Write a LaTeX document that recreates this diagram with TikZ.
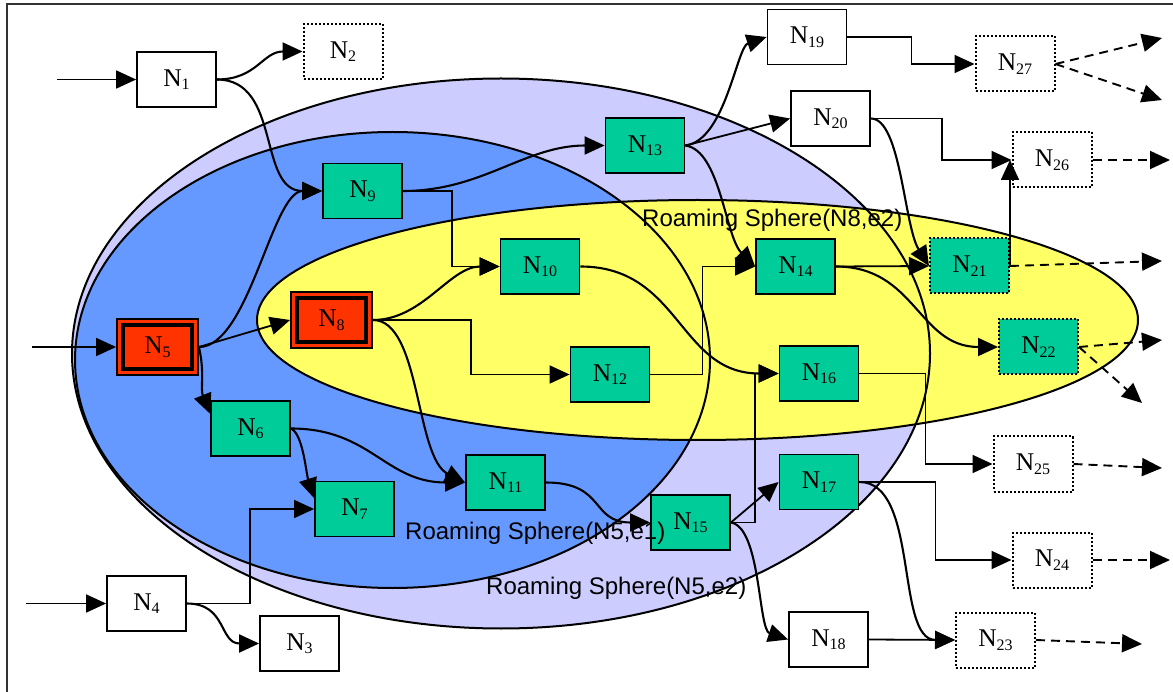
\documentclass[tikz,border=0pt]{standalone}
\usepackage{fontspec}
\setmainfont{Liberation Serif}
\newfontfamily\sphfont{Liberation Sans}
\usetikzlibrary{arrows.meta}
\definecolor{lav}{HTML}{CCCCFF}
\definecolor{sblue}{HTML}{6699FF}
\definecolor{syel}{HTML}{FFFF66}
\definecolor{ngreen}{HTML}{00CC99}
\definecolor{nred}{HTML}{FF3300}
\newcommand{\nlab}[1]{N\raisebox{-3.5pt}{\fontsize{16}{16}\selectfont #1}}
\begin{document}
\begin{tikzpicture}[x=1pt,y=-1pt,
  box/.style={rectangle, draw=black, line width=1.8pt, minimum width=79pt, minimum height=55pt, inner sep=0pt, font=\fontsize{25.5}{25.5}\selectfont, fill=white},
  dotbox/.style={box, line width=2pt, dash pattern=on 2pt off 2pt},
  gbox/.style={box, fill=ngreen},
  gdotbox/.style={dotbox, fill=ngreen},
  rbox/.style={box, fill=nred, minimum width=81pt, minimum height=56pt,
    path picture={\draw[line width=3.2pt] ([shift={(6pt,-6pt)}]path picture bounding box.north west) rectangle ([shift={(-6pt,6pt)}]path picture bounding box.south east);}},
  tip/.style={-{Triangle[length=20pt,width=18pt]}},
  conn/.style={tip, line width=2.1pt},
  elb/.style={tip, line width=1.8pt},
  dsh/.style={tip, line width=1.9pt, dash pattern=on 9pt off 6pt},
  sph/.style={font=\sphfont\fontsize{24}{24}\selectfont, anchor=base west, inner sep=0pt},
  ell/.style={line width=2pt}
]
\useasboundingbox (0,0) rectangle (1173,692);
% frame
\draw[line width=1.8pt, black!80] (1173,4) -- (7,4) -- (7,692);
% spheres
\fill[lav] (501,353.5) ellipse [x radius=429pt, y radius=275pt];
\fill[sblue] (392.5,360) ellipse [x radius=317.5pt, y radius=228pt];
\fill[syel] (697.5,320) ellipse [x radius=440.5pt, y radius=120pt];
\draw[ell] (501,353.5) ellipse [x radius=429pt, y radius=275pt];
\draw[ell] (392.5,360) ellipse [x radius=317.5pt, y radius=228pt];
\draw[ell] (697.5,320) ellipse [x radius=440.5pt, y radius=120pt];

% nodes
\node[box] (N1) at (176.5,79.5) {\nlab{1}};
\node[dotbox] (N2) at (343,51.5) {\nlab{2}};
\node[box] (N3) at (299.5,643.5) {\nlab{3}};
\node[box] (N4) at (146.5,603.5) {\nlab{4}};
\node[rbox] (N5) at (157.5,347) {\nlab{5}};
\node[gbox] (N6) at (250.5,428.5) {\nlab{6}};
\node[gbox] (N7) at (354.5,509) {\nlab{7}};
\node[rbox] (N8) at (331.5,320) {\nlab{8}};
\node[gbox] (N9) at (362.5,191) {\nlab{9}};
\node[gbox] (N10) at (540,266.5) {\nlab{10}};
\node[gbox] (N11) at (505.5,482.5) {\nlab{11}};
\node[gbox] (N12) at (610,374.5) {\nlab{12}};
\node[gbox] (N13) at (645,145.5) {\nlab{13}};
\node[gbox] (N14) at (795.5,266.5) {\nlab{14}};
\node[gbox] (N15) at (690.5,522.5) {\nlab{15}};
\node[gbox] (N16) at (819,373.5) {\nlab{16}};
\node[gbox] (N17) at (819,482) {\nlab{17}};
\node[box] (N18) at (828.5,639.5) {\nlab{18}};
\node[box] (N19) at (807,37) {\nlab{19}};
\node[box] (N20) at (830.5,118.5) {\nlab{20}};
\node[gdotbox] (N21) at (969.5,266) {\nlab{21}};
\node[gdotbox] (N22) at (1038.5,347) {\nlab{22}};
\node[dotbox] (N23) at (995.5,640) {\nlab{23}};
\node[dotbox] (N24) at (1052,560) {\nlab{24}};
\node[dotbox] (N25) at (1033,464) {\nlab{25}};
\node[dotbox] (N26) at (1052,160) {\nlab{26}};
\node[dotbox] (N27) at (1015,64) {\nlab{27}};

% free ends
\coordinate (i1) at (57,79.5);
\coordinate (i5) at (32,347);
\coordinate (i4) at (26,603.5);
\coordinate (o21) at (1162,261);
\coordinate (o22a) at (1162,340);
\coordinate (o22b) at (1142,403);
\coordinate (o25) at (1162,468);
\coordinate (o24) at (1170,560);
\coordinate (o23) at (1142,644);
\coordinate (o26) at (1170,160);
\coordinate (o27a) at (1162,38);
\coordinate (o27b) at (1162,100);

% inputs
\draw[elb] (i1) -- (N1.west);
\draw[elb] (i5) -- (N5.west);
\draw[elb] (i4) -- (N4.west);

% curved connectors
\draw[conn] (N1.east) .. controls +(40,0) and +(-40,0) .. (N2.west);
\draw[conn] (N1.east) .. controls +(65,0) and +(-65,0) .. (N9.west);
\draw[conn] (N5.east) .. controls +(50,0) and +(-50,0) .. (N9.west);
\draw[conn] (N5.east) .. controls +(6,25) and +(-10,-25) .. (N6.160);
\draw[conn] (N9.east) .. controls +(80,0) and +(-80,0) .. (N13.west);
\draw[conn] (N8.east) .. controls +(50,0) and +(-50,0) .. (N10.west);
\draw[conn] (N8.east) .. controls +(48,0) and +(-50,-25) .. (N11.west);
\draw[conn] (N6.east) .. controls +(80,0) and +(-80,0) .. (N11.west);
\draw[conn] (N6.east) .. controls +(12,5) and +(-8,-25) .. (N7.165);
\draw[conn] (N4.east) .. controls +(40,0) and +(-40,0) .. (N3.west);
\draw[conn] (N11.east) .. controls +(60,0) and +(-60,0) .. (N15.west);
\draw[conn] (N10.east) .. controls +(100,0) and +(-100,0) .. (N16.west);
\draw[conn] (N13.east) .. controls +(35,5) and +(-30,-30) .. (N14.west);
\draw[conn] (N13.east) .. controls +(40,-5) and +(-30,10) .. (N19.west);
\draw[conn] (N20.east) .. controls +(30,0) and +(-25,-40) .. (N21.west);
\draw[conn] (N14.east) .. controls +(80,0) and +(-80,0) .. (N22.west);
\draw[conn] (N17.east) .. controls +(60,0) and +(-60,0) .. (N23.west);
\draw[conn] (N15.east) .. controls +(30,5) and +(-30,-10) .. (N18.west);

% straight connectors
\draw[elb] (N5.east) -- (N8.west);
\draw[elb] (N15.east) -- (N17.west);
\draw[elb] (N13.east) -- (N20.west);
\draw[elb] (N14.east) -- (N21.west);
\draw[elb] (N18.east) -- (N23.west);
\draw[elb] (N21.east) -- (N21.east |- N26.west);

% elbow connectors
\draw[elb] (N9.east) -- ++(49,0) |- (N10.west);
\draw[elb] (N8.east) -- ++(98,0) |- (N12.west);
\draw[elb] (N4.east) -- ++(63,0) |- (N7.west);
\draw[elb] (N15.east) -- ++(24,0) |- (N16.west);
\draw[elb] (N12.east) -- ++(52,0) |- (N14.west);
\draw[elb] (N19.east) -- ++(64,0) |- (N27.west);
\draw[elb] (N20.east) -- ++(71,0) |- (N26.west);
\draw[elb] (N16.east) -- ++(66,0) |- (N25.west);
\draw[elb] (N17.east) -- ++(76,0) |- (N24.west);

% dashed outputs
\draw[dsh] (N21.east) -- (o21);
\draw[dsh] (N22.east) -- (o22a);
\draw[dsh] (N22.east) -- (o22b);
\draw[dsh] (N25.east) -- (o25);
\draw[dsh] (N24.east) -- (o24);
\draw[dsh] (N23.east) -- (o23);
\draw[dsh] (N26.east) -- (o26);
\draw[dsh] (N27.east) -- (o27a);
\draw[dsh] (N27.east) -- (o27b);

% sphere labels
\node[sph] (L1) at (405,539) {Roaming Sphere(N5,e1)};
\node[sph] (L2) at (486,594) {Roaming Sphere(N5,e2)};
\node[sph] (L3) at (642,227) {Roaming Sphere(N8,e2)};
\end{tikzpicture}
\end{document}
